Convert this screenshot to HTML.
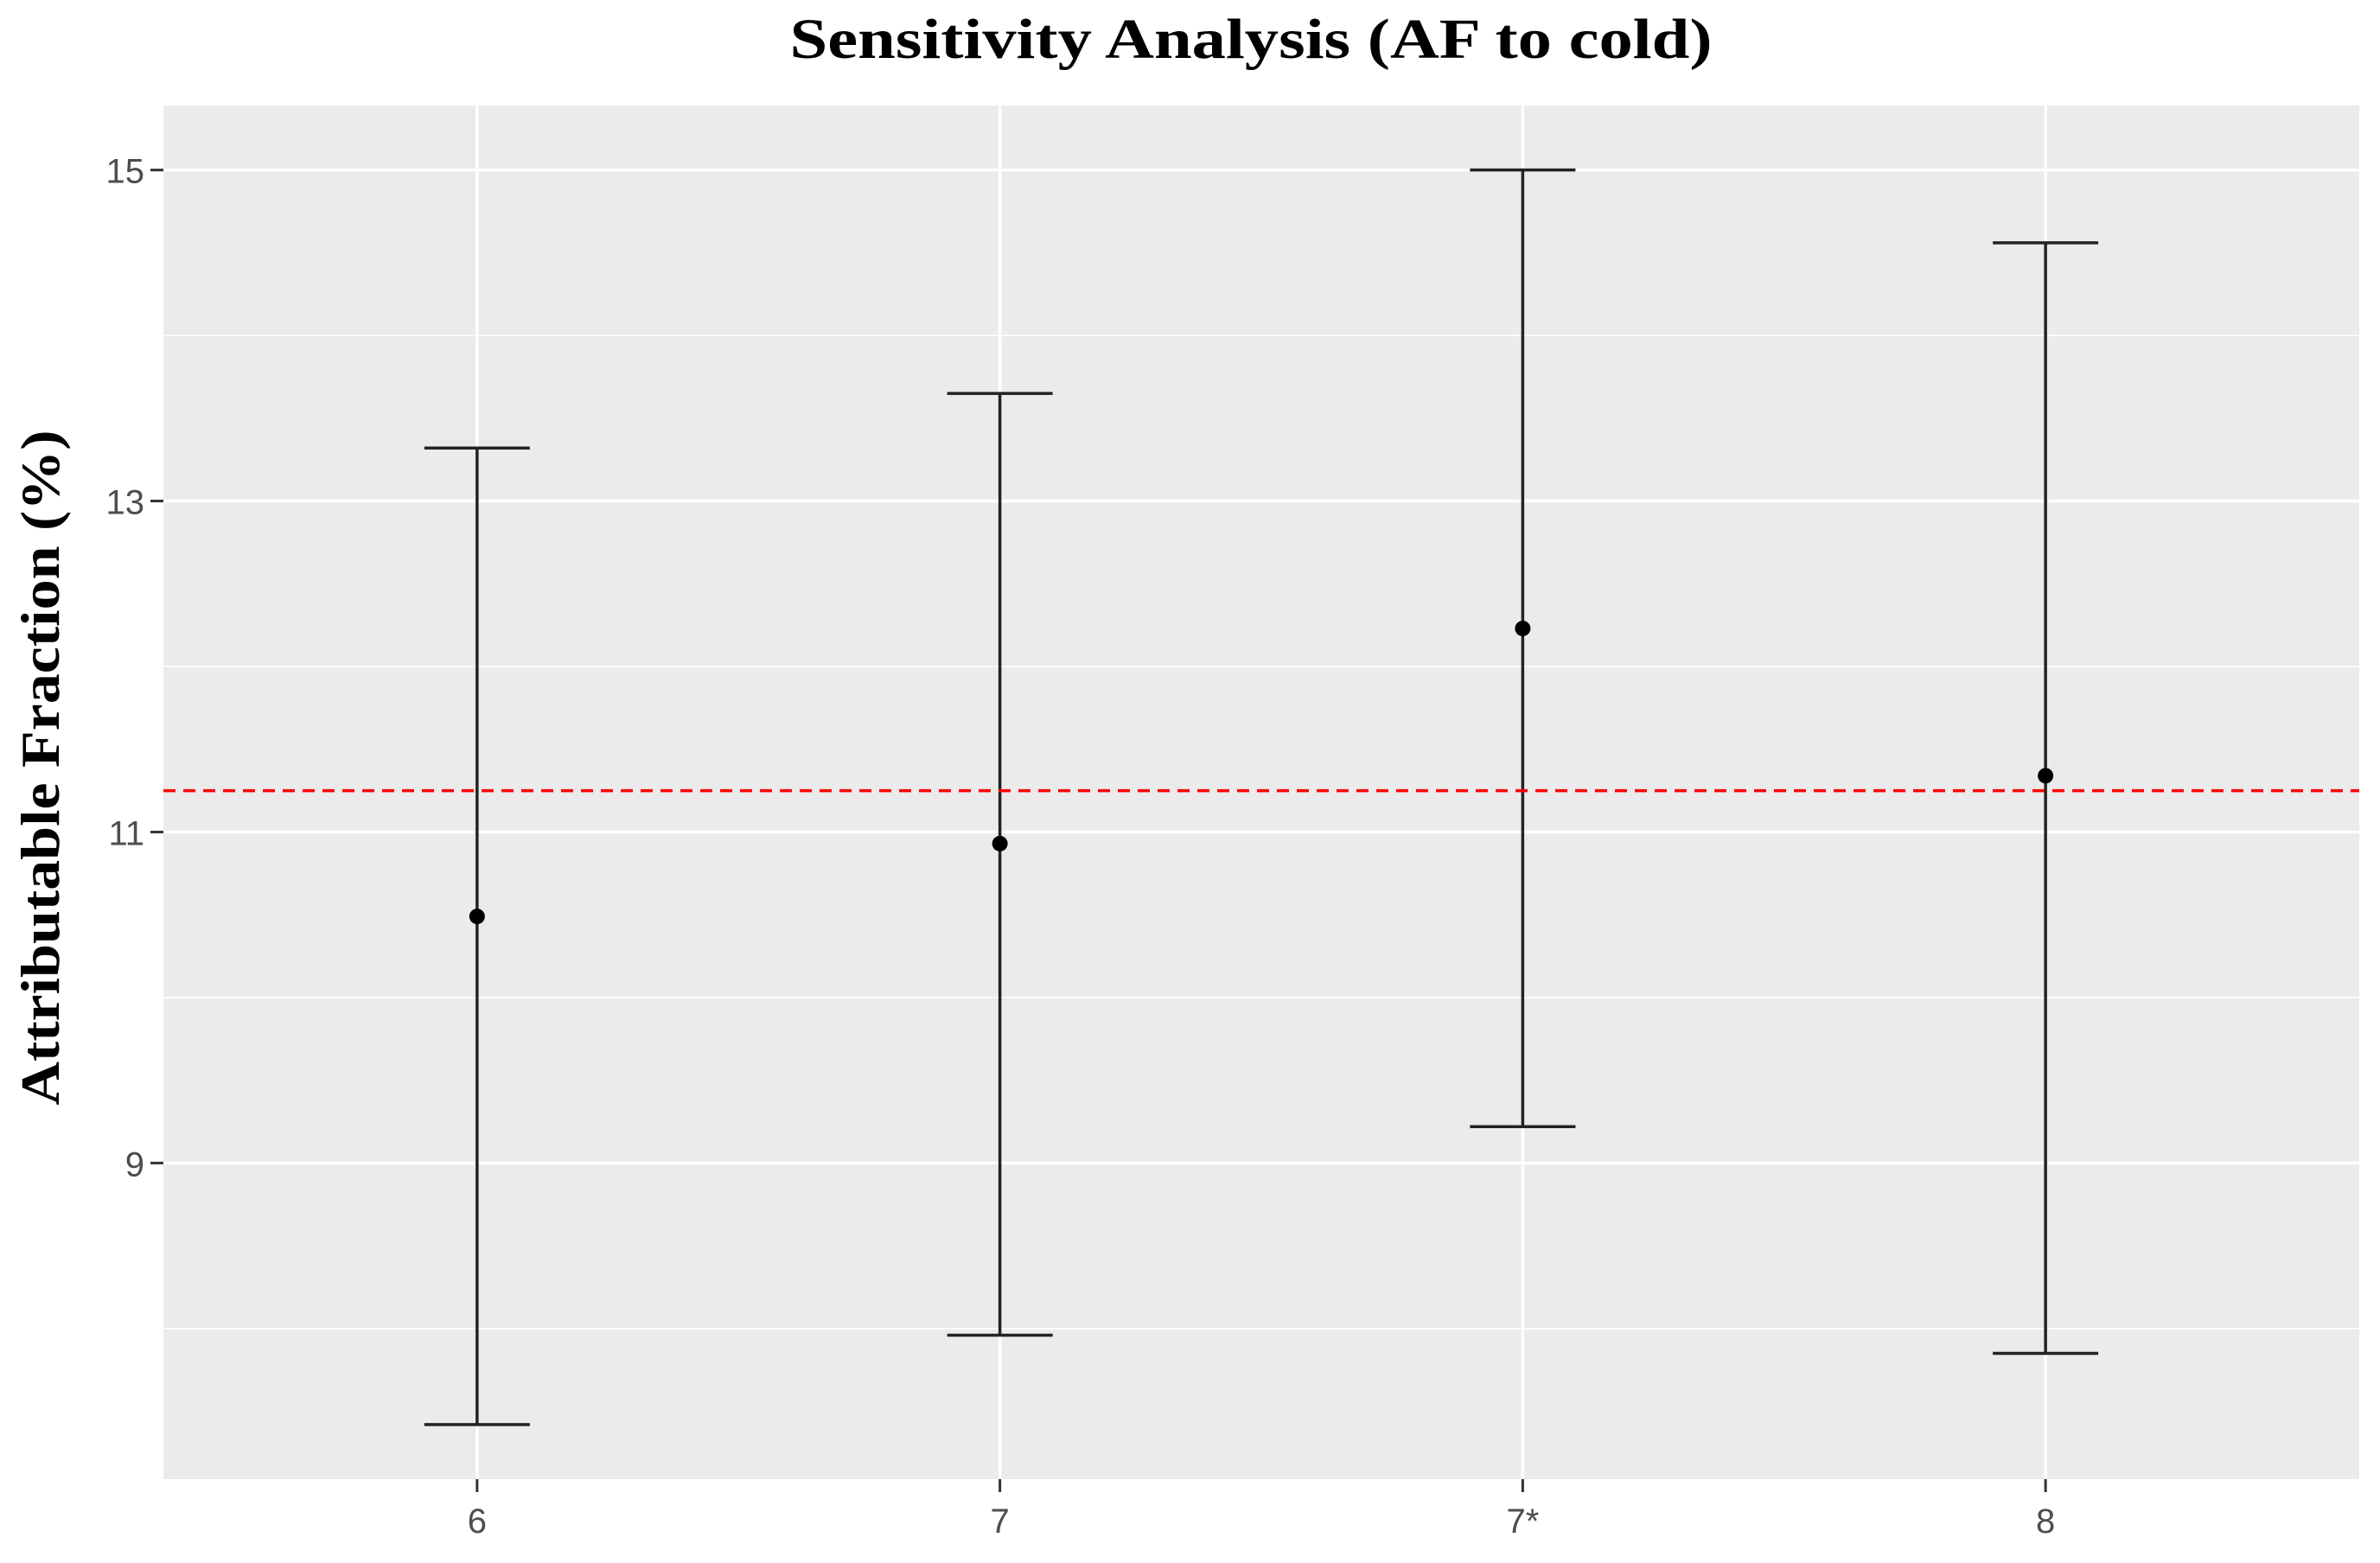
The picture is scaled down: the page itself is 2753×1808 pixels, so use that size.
<!DOCTYPE html>
<html><head><meta charset="utf-8"><style>
html,body{margin:0;padding:0;background:#fff;}
svg{display:block;}
</style></head><body>
<svg id="chart" width="2753" height="1808" viewBox="0 0 2753 1808" xmlns="http://www.w3.org/2000/svg">
<text x="1447" y="67" text-anchor="middle" font-family="Liberation Serif, serif" font-weight="bold" font-size="66" fill="#000" textLength="1067" lengthAdjust="spacingAndGlyphs">Sensitivity Analysis (AF to cold)</text>
<rect x="189" y="122" width="2540" height="1589" fill="#ebebeb"/>
<g id="grid"></g>
<g id="marks"></g>
<g id="axes"></g>
<text transform="translate(68,888) rotate(-90)" text-anchor="middle" font-family="Liberation Serif, serif" font-weight="bold" font-size="64" fill="#000" textLength="781" lengthAdjust="spacingAndGlyphs">Attributable Fraction (%)</text>
</svg>
<script>
const categories = ["6", "7", "7*", "8"];
const estimates = [10.49, 10.93, 12.23, 11.34];
const lowers = [7.42, 7.96, 9.22, 7.85];
const uppers = [13.32, 13.65, 15.0, 14.56];
const refValue = 11.25;
const yTicks = [9, 11, 13, 15];
const yMinor = [8, 10, 12, 14];

const NS = "http://www.w3.org/2000/svg";
const L = 189, R = 2729, T = 122, B = 1711;
const yMin = 7.09, yMax = 15.39;
function y(v){ return B - (v - yMin) / (yMax - yMin) * (B - T); }
const band = (R - L) / (categories.length - 1 + 1.2);
function x(i){ return L + band * (0.6 + i); }
function mk(tag, attrs, parent){
  const e = document.createElementNS(NS, tag);
  for (const k in attrs) e.setAttribute(k, attrs[k]);
  parent.appendChild(e);
  return e;
}
const grid = document.getElementById('grid');
const marks = document.getElementById('marks');
const axes = document.getElementById('axes');
yMinor.forEach(v => {
  const e = mk('line', {x1:L, x2:R, y1:y(v), y2:y(v), stroke:'#fff', 'stroke-width':1.6}, grid);
  
  
});
yTicks.forEach(v => {
  const e = mk('line', {x1:L, x2:R, y1:y(v), y2:y(v), stroke:'#fff', 'stroke-width':3.4}, grid);
  
  
  const t = mk('line', {x1:L-15, x2:L, y1:y(v), y2:y(v), stroke:'#333', 'stroke-width':3}, axes);
  
  
  const lb = mk('text', {x:L-22, y:y(v)+15, 'text-anchor':'end', 'font-family':'Liberation Sans, sans-serif', 'font-size':40, fill:'#4d4d4d'}, axes);
  lb.textContent = v;
  
  
});
categories.forEach((c, i) => {
  const g = mk('line', {x1:x(i), x2:x(i), y1:T, y2:B, stroke:'#fff', 'stroke-width':3.4}, grid);
  
  
  const t = mk('line', {x1:x(i), x2:x(i), y1:B, y2:B+15, stroke:'#333', 'stroke-width':3}, axes);
  
  
  const lb = mk('text', {x:x(i), y:B+62, 'text-anchor':'middle', 'font-family':'Liberation Sans, sans-serif', 'font-size':40, fill:'#4d4d4d'}, axes);
  lb.textContent = c;
  
  
  const v = mk('line', {x1:x(i), x2:x(i), y1:y(uppers[i]), y2:y(lowers[i]), stroke:'#222', 'stroke-width':3.5}, marks);
  
  
  const cu = mk('line', {x1:x(i)-61, x2:x(i)+61, y1:y(uppers[i]), y2:y(uppers[i]), stroke:'#222', 'stroke-width':3.5}, marks);
  
  
  const cl = mk('line', {x1:x(i)-61, x2:x(i)+61, y1:y(lowers[i]), y2:y(lowers[i]), stroke:'#222', 'stroke-width':3.5}, marks);
  
  
});
const ref = mk('line', {x1:L, x2:R, y1:y(refValue), y2:y(refValue), stroke:'#ff0000', 'stroke-width':3.5, 'stroke-dasharray':'14 9'}, marks);


categories.forEach((c, i) => {
  const p = mk('circle', {cx:x(i), cy:y(estimates[i]), r:9, fill:'#000'}, marks);
  
  
});
</script>
</body></html>
